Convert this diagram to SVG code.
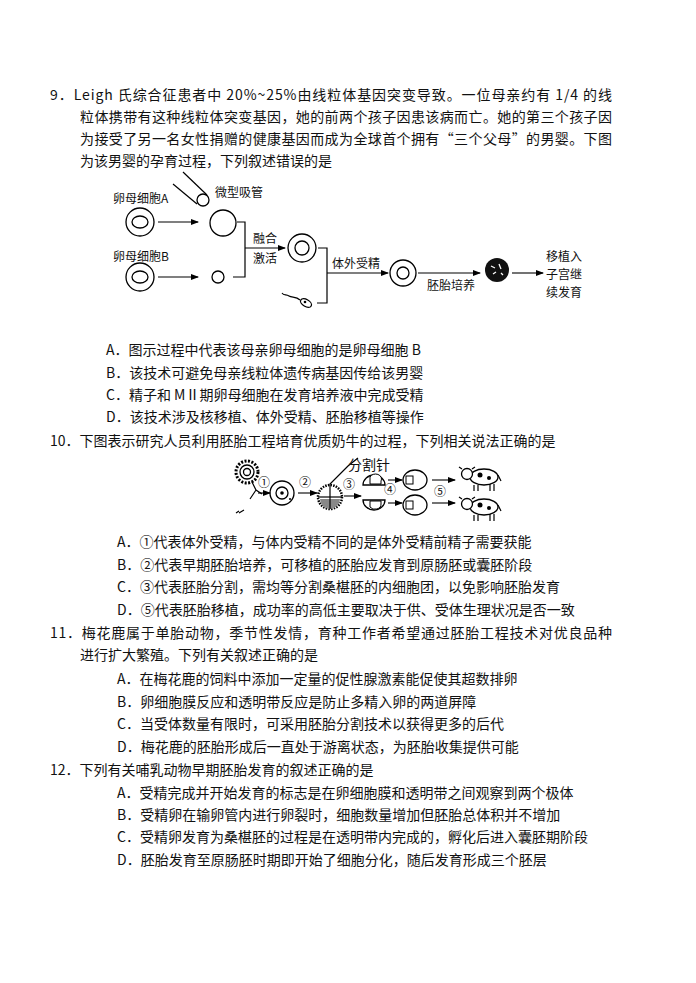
<svg xmlns="http://www.w3.org/2000/svg" width="696" height="983" viewBox="0 0 696 983">
<defs>
<marker id="ar" markerWidth="8" markerHeight="6" refX="7" refY="3" orient="auto" markerUnits="userSpaceOnUse"><path d="M0,0 L8,3 L0,6 Z" fill="#000"/></marker>
</defs>
<style>
text{font-family:"Noto Sans CJK SC","Liberation Serif",serif;font-size:14px;fill:#111}
.s{font-size:12px}
.l{fill:none;stroke:#000;stroke-width:1.2}
.a{fill:none;stroke:#000;stroke-width:1.1;marker-end:url(#ar)}
.c{fill:#fff;stroke:#000;stroke-width:1.3}
</style>
<rect width="696" height="983" fill="#fff"/>
<g id="q9">
<text x="50" y="100" textLength="562" lengthAdjust="spacing">9．Leigh 氏综合征患者中 20%~25%由线粒体基因突变导致。一位母亲约有 1/4 的线</text>
<text x="80" y="122" textLength="532" lengthAdjust="spacing">粒体携带有这种线粒体突变基因，她的前两个孩子因患该病而亡。她的第三个孩子因</text>
<text x="80" y="144" textLength="532" lengthAdjust="spacing">为接受了另一名女性捐赠的健康基因而成为全球首个拥有“三个父母”的男婴。下图</text>
<text x="80" y="166">为该男婴的孕育过程，下列叙述错误的是</text>
<text x="106" y="355">A．图示过程中代表该母亲卵母细胞的是卵母细胞 B</text>
<text x="106" y="378">B．该技术可避免母亲线粒体遗传病基因传给该男婴</text>
<text x="106" y="400">C．精子和 MⅡ期卵母细胞在发育培养液中完成受精</text>
<text x="106" y="422">D．该技术涉及核移植、体外受精、胚胎移植等操作</text>
</g>
<g id="diagram1">
<text class="s" x="113" y="203">卵母细胞A</text>
<text class="s" x="113" y="261">卵母细胞B</text>
<g id="cellA"><circle class="c" cx="140" cy="222" r="14"/><ellipse class="c" cx="140" cy="222" rx="8" ry="6"/></g>
<g id="cellB"><circle class="c" cx="140" cy="277" r="14"/><ellipse class="c" cx="140" cy="277" rx="8" ry="6"/></g>
<g id="pipette"><line class="l" x1="183" y1="172" x2="207" y2="195"/><line class="l" x1="173" y1="184" x2="197" y2="204"/><circle class="c" cx="203" cy="200" r="6"/></g>
<text class="s" x="215" y="197">微型吸管</text>
<circle class="c" cx="223" cy="223" r="13"/>
<circle class="c" cx="218" cy="277" r="6"/>
<text class="s" x="253" y="243">融合</text>
<text class="s" x="253" y="263">激活</text>
<g id="cellC"><circle class="c" cx="302" cy="248" r="14"/><circle class="c" cx="302" cy="248" r="7"/></g>
<g id="sperm"><ellipse class="c" cx="306" cy="303" rx="6" ry="3.5" transform="rotate(30 306 303)"/><circle cx="305" cy="302" r="1.3"/><path class="l" d="M300,300 C296,296 292,298 289,296 C286,294 284,296 282,293" stroke-width="0.9"/></g>
<text class="s" x="332" y="268">体外受精</text>
<g id="cellD"><circle class="c" cx="403" cy="273" r="13"/><circle class="c" cx="403" cy="273" r="6"/></g>
<text class="s" x="427" y="290">胚胎培养</text>
<g id="blob"><circle cx="497" cy="270" r="12" fill="#111"/><path d="M491,266 l4,2 M499,264 l2,5 M493,274 l3,-2 M501,273 l2,2" stroke="#fff" stroke-width="1.3"/></g>
<text class="s" x="546" y="261">移植入</text>
<text class="s" x="546" y="279">子宫继</text>
<text class="s" x="546" y="297">续发育</text>
</g>
<g id="connectors1">
<line class="a" x1="158" y1="222" x2="198" y2="222"/>
<line class="a" x1="158" y1="277" x2="198" y2="277"/>
<polyline class="l" points="237,222 245,222 245,277 233,277"/>
<line class="a" x1="245" y1="248" x2="285" y2="248"/>
<polyline class="l" points="318,248 327,248 327,303 317,303"/>
<line class="a" x1="327" y1="273" x2="388" y2="273"/>
<line class="a" x1="418" y1="273" x2="480" y2="273"/>
<line class="a" x1="512" y1="273" x2="543" y2="273"/>
</g>
<g id="q10">
<text x="50" y="446">10．下图表示研究人员利用胚胎工程培育优质奶牛的过程，下列相关说法正确的是</text>
<text x="117" y="547">A．①代表体外受精，与体内受精不同的是体外受精前精子需要获能</text>
<text x="117" y="570">B．②代表早期胚胎培养，可移植的胚胎应发育到原肠胚或囊胚阶段</text>
<text x="117" y="592">C．③代表胚胎分割，需均等分割桑椹胚的内细胞团，以免影响胚胎发育</text>
<text x="117" y="615">D．⑤代表胚胎移植，成功率的高低主要取决于供、受体生理状况是否一致</text>
</g>
<g id="diagram2">
<g id="egg"><circle cx="247" cy="472" r="11" fill="none" stroke="#000" stroke-width="3" stroke-dasharray="2 1.5"/><circle class="c" cx="247" cy="472" r="7"/><circle class="c" cx="247" cy="472" r="3.5"/></g>
<path class="l" d="M252,482 L256,490 L262,494 M256,490 L250,499 M244,510 l-5,3 M236,513 l3,-2" />
<text class="s" x="258" y="487">①</text>
<g id="zyg"><circle class="c" cx="282" cy="493" r="12"/><circle class="c" cx="282" cy="493" r="6"/><circle cx="282" cy="493" r="1.8"/><circle cx="290" cy="499" r="1"/></g>
<text class="s" x="299" y="487">②</text>
<g id="morula"><circle cx="330" cy="497" r="12" fill="#fff" stroke="#000" stroke-width="2.5" stroke-dasharray="1.5 1.2"/><line class="l" x1="318" y1="497" x2="342" y2="497"/><path d="M320,499 A10,10 0 0 0 340,499 Z" fill="#888"/><polyline class="l" points="330,509 330,484 348,466 358,458"/></g>
<text x="348" y="470">分割针</text>
<text class="s" x="343" y="489">③</text>
<g id="halves"><path class="c" d="M363,485 A11,10 0 0 1 385,485 Z"/><path d="M370,484 L370,477 A6,5 0 0 1 381,481 L381,484 Z" fill="#fff" stroke="#000"/><path class="c" d="M363,500 A11,10 0 0 0 385,500 Z"/><path d="M370,501 L370,507 A6,5 0 0 0 381,504 L381,501 Z" fill="#fff" stroke="#000"/></g>
<text class="s" x="384" y="494">④</text>
<g id="emb"><ellipse class="c" cx="415" cy="480" rx="12" ry="10"/><rect x="406" y="476" width="7" height="8" fill="#fff" stroke="#000"/><ellipse class="c" cx="415" cy="505" rx="12" ry="10"/><rect x="406" y="501" width="7" height="8" fill="#fff" stroke="#000"/></g>
<text class="s" x="434" y="496">⑤</text>
<g id="cow1" transform="translate(480,477)"><ellipse class="c" cx="4" cy="0" rx="14" ry="8"/><circle cx="0" cy="-2" r="2.5"/><circle cx="9" cy="1" r="2"/><circle class="c" cx="-13" cy="-3" r="5.5"/><path class="l" d="M-18,-8 l-3,-2 M-8,-8 l3,-2 M-6,8 l0,6 M-2,8 l0,6 M10,7 l0,7 M14,7 l0,7 M18,-2 l3,6"/></g>
<g id="cow2" transform="translate(480,507)"><ellipse class="c" cx="4" cy="0" rx="14" ry="8"/><circle cx="0" cy="-2" r="2.5"/><circle cx="9" cy="1" r="2"/><circle class="c" cx="-13" cy="-3" r="5.5"/><path class="l" d="M-18,-8 l-3,-2 M-8,-8 l3,-2 M-6,8 l0,6 M-2,8 l0,6 M10,7 l0,7 M14,7 l0,7 M18,-2 l3,6"/></g>
</g>
<g id="connectors2">
<line class="a" x1="258" y1="493" x2="270" y2="493"/>
<line class="a" x1="298" y1="493" x2="317" y2="493"/>
<line class="a" x1="344" y1="496" x2="361" y2="496"/>
<line class="a" x1="388" y1="480" x2="402" y2="480"/>
<line class="a" x1="388" y1="503" x2="402" y2="503"/>
<line class="a" x1="432" y1="480" x2="455" y2="480"/>
<line class="a" x1="432" y1="503" x2="455" y2="503"/>
</g>
<g id="q11">
<text x="50" y="638" textLength="562" lengthAdjust="spacing">11．梅花鹿属于单胎动物，季节性发情，育种工作者希望通过胚胎工程技术对优良品种</text>
<text x="80" y="660">进行扩大繁殖。下列有关叙述正确的是</text>
<text x="117" y="684">A．在梅花鹿的饲料中添加一定量的促性腺激素能促使其超数排卵</text>
<text x="117" y="707">B．卵细胞膜反应和透明带反应是防止多精入卵的两道屏障</text>
<text x="117" y="729">C．当受体数量有限时，可采用胚胎分割技术以获得更多的后代</text>
<text x="117" y="752">D．梅花鹿的胚胎形成后一直处于游离状态，为胚胎收集提供可能</text>
</g>
<g id="q12">
<text x="50" y="775">12．下列有关哺乳动物早期胚胎发育的叙述正确的是</text>
<text x="117" y="798">A．受精完成并开始发育的标志是在卵细胞膜和透明带之间观察到两个极体</text>
<text x="117" y="820">B．受精卵在输卵管内进行卵裂时，细胞数量增加但胚胎总体积并不增加</text>
<text x="117" y="842">C．受精卵发育为桑椹胚的过程是在透明带内完成的，孵化后进入囊胚期阶段</text>
<text x="117" y="865">D．胚胎发育至原肠胚时期即开始了细胞分化，随后发育形成三个胚层</text>
</g>
</svg>
